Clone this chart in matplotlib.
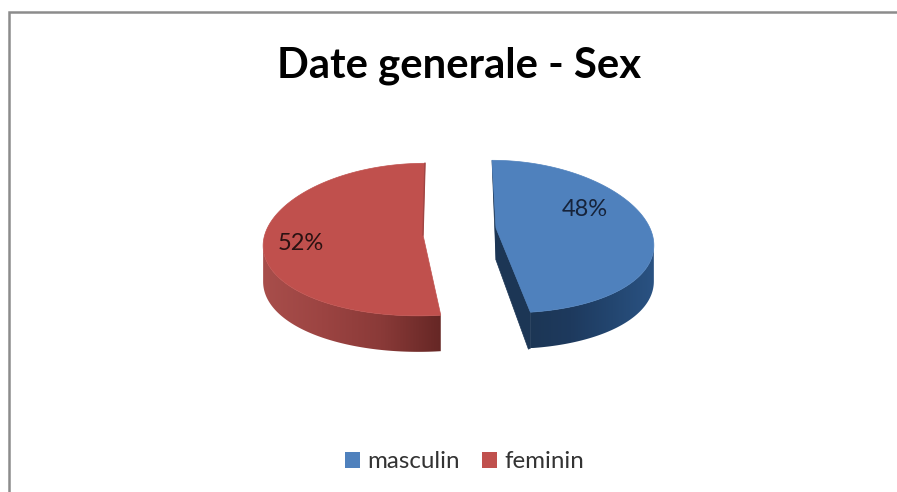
import numpy as np
import matplotlib
matplotlib.use("Agg")
import matplotlib.pyplot as plt
from matplotlib.patches import Patch, Polygon
from matplotlib.colors import LinearSegmentedColormap

categories = ["masculin", "feminin"]
values = [48, 52]
labels = ["48%", "52%"]

W, H = 897, 492
RY, DEPTH = 76, 36
KX, KY = 0.12, 0.06

plt.rcParams["font.family"] = ["Lato", "DejaVu Sans"]


def rim(theta, cx, cy, rx, skew):
    # theta in degrees, clockwise from the top of the pie
    t = np.radians(theta)
    u = np.sin(t)
    v = -np.cos(t)
    x = cx + rx * u / (1 - KX * v) + skew * v
    y = cy + RY * v / (1 - KY * v)
    return x, y


def side(ax, x, y, cmap):
    # shaded wall below the rim, gradient runs left to right and is clipped to the wall
    pts = np.r_[np.column_stack([x, y]), np.column_stack([x, y + DEPTH])[::-1]]
    wall = Polygon(pts, closed=True, fc="none", ec="none", transform=ax.transData)
    ax.add_patch(wall)
    grad = np.linspace(0, 1, 256).reshape(1, -1)
    im = ax.imshow(grad, cmap=cmap, aspect="auto", zorder=2,
                   extent=[x.min(), x.max(), y.max() + DEPTH, y.min()])
    im.set_clip_path(wall)


fig = plt.figure(figsize=(W / 100, H / 100), dpi=100)
ax = fig.add_axes([0, 0, 1, 1])
ax.axis("off")

# chart frame, cropped on the right and at the bottom
ax.plot([8.5, 8.5, W], [H, 11.5, 11.5], color="#8c8c8c", lw=1.8, zorder=1,
        solid_joinstyle="miter")

angles = np.cumsum([0] + values) / sum(values) * 360
split = angles[1]

# masculin
th = np.linspace(angles[0], split, 240)
x, y = rim(th, 500.5, 232, 151, 8.5)
ax_bx, ax_by = 496, 228
cmap_blue = LinearSegmentedColormap.from_list("b", ["#1c3655", "#1e3a5e", "#234670", "#2a5282"])
i = np.argmax(x)
side(ax, x[i:], y[i:], cmap_blue)
face = [(x[-1], y[-1]), (ax_bx, ax_by), (ax_bx, ax_by + DEPTH - 4),
        (x[-1] - 2, y[-1] + DEPTH + 1), (x[-1], y[-1] + DEPTH)]
ax.add_patch(Polygon(face, closed=True, fc="#1c3655", ec="#1c3655", lw=0.5, zorder=2))
back = [(x[0], y[0]), (ax_bx, ax_by), (ax_bx, ax_by + DEPTH - 4)]
ax.add_patch(Polygon(back, closed=True, fc="#1c3655", ec="#1c3655", lw=0.5, zorder=2))
top = np.column_stack([np.r_[x, ax_bx], np.r_[y, ax_by]])
ax.add_patch(Polygon(top, closed=True, fc="#4f81bd", ec="#4f81bd", lw=0.5, zorder=3))

# feminin
th = np.linspace(split, angles[2], 240)
x, y = rim(th, 421.7, 235, 157, -3.3)
ax_rx, ax_ry = 423, 235
cmap_red = LinearSegmentedColormap.from_list("r", ["#a84e4b", "#9c4442", "#8a3a38", "#662725"])
i = np.argmin(x)
side(ax, x[:i + 1], y[:i + 1], cmap_red)
top = np.column_stack([np.r_[x, ax_rx], np.r_[y, ax_ry]])
ax.add_patch(Polygon(top, closed=True, fc="#c0504d", ec="#c0504d", lw=0.5, zorder=3))
ax.plot([x[-1], ax_rx], [y[-1], ax_ry], color="#a04543", lw=1, zorder=3.5)

ax.set_xlim(0, W)
ax.set_ylim(H, 0)

ax.text(585, 209, labels[0], ha="center", va="center", fontsize=17, color="#16233a", zorder=4)
ax.text(300.5, 244, labels[1], ha="center", va="center", fontsize=17, color="#2a1212", zorder=4)

ax.text(459, 66, "Date generale - Sex", ha="center", va="center", fontsize=30.2,
        fontweight="bold", color="black")

handles = [Patch(fc="#4f81bd", ec="none"), Patch(fc="#c0504d", ec="none")]
ax.legend(handles, categories, ncol=2, frameon=False, loc="center",
          bbox_to_anchor=(464.5 / W, 1 - 462 / H), fontsize=17.4, labelcolor="#333333",
          handlelength=0.62, handleheight=0.62, handletextpad=0.3,
          columnspacing=0.95, borderpad=0)

fig.savefig("out.png", dpi=100, facecolor="white")
